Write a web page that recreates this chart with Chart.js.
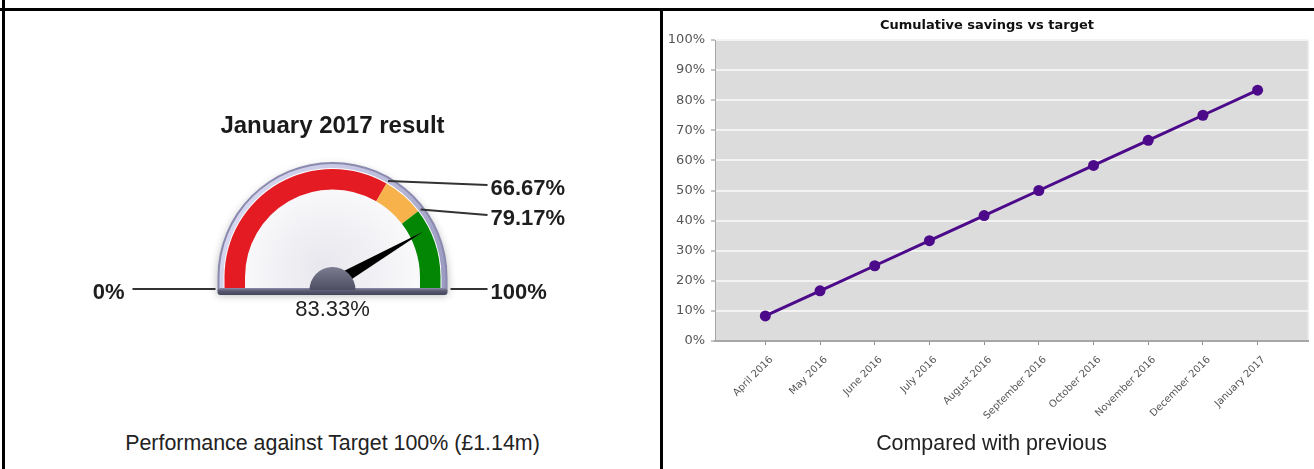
<!DOCTYPE html>
<html>
<head>
<meta charset="utf-8">
<script src="https://cdn.jsdelivr.net/npm/chart.js@4.4.1/dist/chart.umd.min.js"></script>
<style>
  body { margin: 0; background: #fff; }
  #page { position: relative; width: 1314px; height: 469px; overflow: hidden; font-family: "Liberation Sans", Arial, sans-serif; }
  .rule { position: absolute; background: #000; }
  .caption { position: absolute; top: 431px; font-size: 21.4px; line-height: 24px; color: #222; text-align: center; white-space: nowrap; }
  #gaugeTitle { position: absolute; left: 5px; top: 111px; width: 655px; text-align: center; font-size: 24px; line-height: 28px; font-weight: bold; color: #1a1a1a; }
  canvas { position: absolute; }
</style>
</head>
<body>
<div id="page">
  <div class="rule" style="left:0;top:8px;width:1314px;height:3px"></div>
  <div class="rule" style="left:2px;top:0;width:3px;height:469px"></div>
  <div class="rule" style="left:660px;top:8px;width:3px;height:461px"></div>

  <canvas id="gaugeChart" width="655" height="400" style="left:5px;top:11px"></canvas>
  <canvas id="savingsChart" width="651" height="430" style="left:663px;top:11px"></canvas>

  <div id="gaugeTitle">January 2017 result</div>
  <div class="caption" style="left:5px;width:655px">Performance against Target 100% (£1.14m)</div>
  <div class="caption" style="left:666px;width:651px">Compared with previous</div>
</div>

<script>
// Gauge data
const gaugeMin = 0;
const gaugeMax = 100;
const bandLimits = [66.67, 79.17, 100];
const bandColours = ['#e41b23', '#f8b24c', '#038603'];
const gaugeValue = 83.33;

// Line chart data
const months = ['April 2016', 'May 2016', 'June 2016', 'July 2016', 'August 2016',
  'September 2016', 'October 2016', 'November 2016', 'December 2016', 'January 2017'];
const cumulativeSavings = [8.33, 16.67, 25, 33.33, 41.67, 50, 58.33, 66.67, 75, 83.33];
const yTicks = [0, 10, 20, 30, 40, 50, 60, 70, 80, 90, 100];

const labelFont = '"Liberation Sans", Arial, sans-serif';
const axisFont = '"DejaVu Sans", Verdana, sans-serif';

const pct = v => v + '%';

// ---------- Gauge ----------

function halfDisc(ctx, cx, cy, r, baseY) {
    ctx.beginPath();
    ctx.moveTo(cx - r, baseY);
    ctx.lineTo(cx - r, cy);
    ctx.arc(cx, cy, r, Math.PI, 0);
    ctx.lineTo(cx + r, baseY);
    ctx.closePath();
}

const gaugeDecor = {
    id: 'gaugeDecor',
    beforeDatasetsDraw(chart) {
        const ctx = chart.ctx;
        const arc = chart.getDatasetMeta(0).data[0];
        const cx = arc.x, cy = arc.y, r = arc.outerRadius;
        const baseY = cy + 14;

        ctx.save();
        // bezel
        ctx.shadowColor = 'rgba(0,0,0,0.3)';
        ctx.shadowBlur = 8;
        ctx.shadowOffsetY = 4;
        halfDisc(ctx, cx, cy, r + 7, baseY);
        ctx.fillStyle = '#8a8ab0';
        ctx.fill();
        ctx.shadowColor = 'transparent';
        const bez = ctx.createLinearGradient(cx - r, cy - r, cx + r, cy);
        bez.addColorStop(0, '#dcdcf2');
        bez.addColorStop(0.5, '#c4c4e2');
        bez.addColorStop(1, '#9c9cc2');
        halfDisc(ctx, cx, cy, r + 5, baseY);
        ctx.fillStyle = bez;
        ctx.fill();
        // face
        const face = ctx.createRadialGradient(cx - 10, cy - 10, 5, cx, cy, r);
        face.addColorStop(0, '#e8e8ee');
        face.addColorStop(1, '#fdfdfe');
        halfDisc(ctx, cx, cy, r + 1, baseY);
        ctx.fillStyle = face;
        ctx.fill();
        ctx.restore();
    },
    afterDatasetsDraw(chart) {
        const ctx = chart.ctx;
        const arcs = chart.getDatasetMeta(0).data;
        const first = arcs[0], last = arcs[arcs.length - 1];
        const cx = first.x, cy = first.y, r = first.outerRadius, ir = first.innerRadius;
        const baseY = cy + 14;

        ctx.save();
        // straight ends of the first and last band
        ctx.fillStyle = first.options.backgroundColor;
        ctx.fillRect(cx - r, cy - 0.5, r - ir, baseY - cy + 0.5);
        ctx.fillStyle = last.options.backgroundColor;
        ctx.fillRect(cx + ir, cy - 0.5, r - ir, baseY - cy + 0.5);

        // base rim
        const rim = ctx.createLinearGradient(0, baseY - 3, 0, baseY + 4);
        rim.addColorStop(0, '#8c8ca8');
        rim.addColorStop(0.4, '#5a5a72');
        rim.addColorStop(1, '#44445a');
        ctx.fillStyle = rim;
        ctx.beginPath();
        ctx.roundRect(cx - r - 7, baseY - 3, 2 * r + 14, 7, 3);
        ctx.fill();

        // leader lines and band labels
        ctx.strokeStyle = '#333';
        ctx.lineWidth = 2;
        ctx.fillStyle = '#1e1e1e';
        ctx.font = 'bold 22px ' + labelFont;
        ctx.textBaseline = 'middle';
        const labelX = cx + 158;
        const labelYs = [cy - 92, cy - 62];
        arcs.slice(0, -1).forEach((a, i) => {
            const ang = a.endAngle;
            ctx.beginPath();
            ctx.moveTo(cx + (r + 3) * Math.cos(ang), cy + (r + 3) * Math.sin(ang));
            ctx.lineTo(labelX - 3, labelYs[i]);
            ctx.stroke();
            ctx.textAlign = 'left';
            ctx.fillText(pct(bandLimits[i]), labelX, labelYs[i] + 4);
        });

        // min / max ends
        ctx.beginPath();
        ctx.moveTo(cx - 200, baseY - 2);
        ctx.lineTo(cx - r - 9, baseY - 2);
        ctx.moveTo(cx + r + 10, baseY - 2);
        ctx.lineTo(labelX - 3, baseY - 2);
        ctx.stroke();
        ctx.textAlign = 'right';
        ctx.fillText(pct(gaugeMin), cx - 208, baseY + 2);
        ctx.textAlign = 'left';
        ctx.fillText(pct(gaugeMax), labelX, baseY + 2);

        // needle
        const frac = (gaugeValue - gaugeMin) / (gaugeMax - gaugeMin);
        const theta = Math.PI + frac * Math.PI;
        const px = cx, py = cy + 7;
        const tipX = px + 105 * Math.cos(theta), tipY = py + 105 * Math.sin(theta);
        const nx = -Math.sin(theta) * 6.5, ny = Math.cos(theta) * 6.5;
        ctx.fillStyle = '#000';
        ctx.beginPath();
        ctx.moveTo(px + nx, py + ny);
        ctx.lineTo(tipX, tipY);
        ctx.lineTo(px - nx, py - ny);
        ctx.closePath();
        ctx.fill();

        // hub
        const hub = ctx.createLinearGradient(0, baseY - 23, 0, baseY);
        hub.addColorStop(0, '#7a7a8e');
        hub.addColorStop(1, '#4c4c60');
        ctx.fillStyle = hub;
        ctx.beginPath();
        ctx.arc(cx, baseY - 1, 23, Math.PI, 0);
        ctx.closePath();
        ctx.fill();

        // value
        ctx.fillStyle = '#222';
        ctx.font = '22px ' + labelFont;
        ctx.textAlign = 'center';
        ctx.fillText(pct(gaugeValue), cx, baseY + 19);
        ctx.restore();
    }
};

new Chart(document.getElementById('gaugeChart'), {
    type: 'doughnut',
    data: {
        labels: bandLimits.map(pct),
        datasets: [{
            data: bandLimits.map((v, i) => v - (i ? bandLimits[i - 1] : gaugeMin)),
            backgroundColor: bandColours,
            borderWidth: 0
        }]
    },
    options: {
        responsive: false,
        animation: false,
        events: [],
        rotation: -90,
        circumference: 180,
        radius: 108,
        cutout: '81%',
        layout: { padding: { top: 150, bottom: 126 } },
        plugins: { legend: { display: false }, tooltip: { enabled: false } }
    },
    plugins: [gaugeDecor]
});

// ---------- Cumulative savings line ----------

const plotBackground = {
    id: 'plotBackground',
    beforeDraw(chart) {
        const {ctx, chartArea: a} = chart;
        ctx.save();
        ctx.fillStyle = '#dcdcdc';
        ctx.fillRect(a.left, a.top, a.width, a.height);
        ctx.strokeStyle = '#eeeeee';
        ctx.lineWidth = 1;
        ctx.beginPath();
        ctx.moveTo(a.right - 0.5, a.top);
        ctx.lineTo(a.right - 0.5, a.bottom);
        ctx.stroke();
        ctx.restore();
    }
};

new Chart(document.getElementById('savingsChart'), {
    type: 'line',
    data: {
        datasets: [{
            data: cumulativeSavings.map((v, i) => ({x: i, y: v})),
            borderColor: '#4c0a8a',
            backgroundColor: '#4c0a8a',
            borderWidth: 3,
            pointRadius: 5.5,
            pointBorderWidth: 0,
            pointBackgroundColor: '#4c0a8a',
            tension: 0,
            clip: false
        }]
    },
    options: {
        responsive: false,
        animation: false,
        events: [],
        layout: { padding: { right: 3 } },
        plugins: {
            legend: { display: false },
            tooltip: { enabled: false },
            title: {
                display: true,
                text: 'Cumulative savings vs target',
                color: '#111',
                font: { family: axisFont, size: 13, weight: 'bold', lineHeight: 1.2 },
                padding: { top: 7.2, bottom: 6.2 }
            }
        },
        scales: {
            x: {
                type: 'linear',
                min: -0.92,
                max: months.length - 1 + 0.93,
                afterBuildTicks: s => { s.ticks = months.map((m, i) => ({value: i})); },
                afterFit: s => { s.height = 100; },
                grid: { drawOnChartArea: false, tickColor: '#8c8c8c', tickLength: 4, tickWidth: 1 },
                border: { color: '#a6a6a6', width: 2 },
                ticks: {
                    autoSkip: false,
                    minRotation: 45,
                    maxRotation: 45,
                    padding: 9,
                    labelOffset: 6,
                    color: '#555',
                    font: { family: axisFont, size: 10 },
                    callback: v => months[v]
                }
            },
            y: {
                min: yTicks[0],
                max: yTicks[yTicks.length - 1],
                afterBuildTicks: s => { s.ticks = yTicks.map(v => ({value: v})); },
                afterFit: s => { s.width = 52; },
                grid: {
                    color: c => c.tick && c.tick.value === 0 ? 'rgba(0,0,0,0)' : '#f3f3f3',
                    lineWidth: 2,
                    tickColor: '#8c8c8c',
                    tickLength: 4,
                    tickWidth: 1
                },
                border: { color: '#a6a6a6', width: 1 },
                ticks: {
                    padding: 6,
                    color: '#555',
                    font: { family: axisFont, size: 13 },
                    callback: v => pct(v)
                }
            }
        }
    },
    plugins: [plotBackground]
});
</script>
</body>
</html>
